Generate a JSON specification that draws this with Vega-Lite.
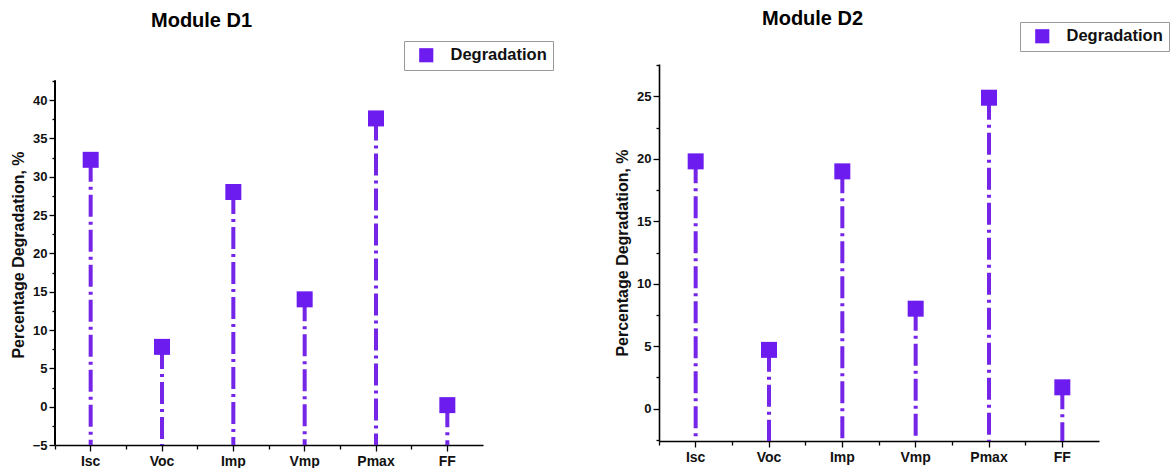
{
  "$schema": "https://vega.github.io/schema/vega-lite/v6.json",
  "padding": {"left": 10, "top": 9, "right": 2, "bottom": 0},
  "spacing": 60,
  "resolve": {"scale": {"color": "independent"}, "legend": {"color": "independent"}},
  "config": {
    "font": "Liberation Sans",
    "view": {"stroke": null},
    "axis": {
      "domainColor": "#000", "domainWidth": 1.6, "tickColor": "#000", "tickWidth": 1.3,
      "labelFont": "Liberation Sans", "labelFontWeight": "bold", "labelColor": "#111",
      "titleFont": "Liberation Sans", "titleFontWeight": "bold", "titleColor": "#111", "grid": false
    },
    "legend": {
      "labelFont": "Liberation Sans", "labelFontWeight": "bold", "labelFontSize": 16.5, "labelColor": "#111",
      "strokeColor": "#999", "padding": 6, "symbolSize": 200, "symbolOffset": 8, "labelOffset": 16, "symbolStrokeWidth": 0
    },
    "title": {"font": "Liberation Sans", "fontWeight": "bold", "fontSize": 20, "color": "#000", "anchor": "start", "frame": "group"}
  },
  "hconcat": [
    {
      "vconcat": [
        {
          "title": {"text": "Module D1", "dx": 96, "offset": 33},
          "width": 428, "height": 381,
          "data": {"values": [
            {"param": "Isc", "value": 32.2, "series": "Degradation"},
            {"param": "Voc", "value": 7.8, "series": "Degradation"},
            {"param": "Imp", "value": 28.0, "series": "Degradation"},
            {"param": "Vmp", "value": 14.0, "series": "Degradation"},
            {"param": "Pmax", "value": 37.6, "series": "Degradation"},
            {"param": "FF", "value": 0.2, "series": "Degradation"}
          ]},
          "resolve": {"axis": {"x": "independent", "y": "independent"}},
          "layer": [
            {
              "mark": {"type": "rule", "strokeDash": [22, 5, 3, 5], "strokeWidth": 4, "color": "#7425e8"},
              "encoding": {
                "x": {"field": "param", "type": "nominal", "sort": null,
                      "scale": {"type": "band", "paddingInner": 0, "paddingOuter": 0},
                      "axis": {"title": null, "labelAngle": 0, "labelFontSize": 14, "tickSize": 6, "labelPadding": 3, "orient": "bottom"}},
                "y": {"field": "value", "type": "quantitative",
                      "scale": {"domain": [-5, 44.7], "nice": false, "zero": false},
                      "axis": {"title": "Percentage Degradation, %", "titleFontSize": 16, "titlePadding": 6, "labelFontSize": 13, "domain": false,
                               "values": [-5, 0, 5, 10, 15, 20, 25, 30, 35, 40], "tickSize": 6, "orient": "left"}},
                "y2": {"datum": -5}
              }
            },
            {
              "mark": {"type": "rule", "color": "#000", "strokeWidth": 1.6},
              "encoding": {
                "x": {"datum": "Isc", "type": "nominal", "bandPosition": 0, "axis": null},
                "y": {"datum": -5, "type": "quantitative", "axis": null},
                "y2": {"datum": 42.5}
              }
            },
            {
              "mark": {"type": "square", "size": 256, "opacity": 1},
              "encoding": {
                "x": {"field": "param", "type": "nominal", "sort": null,
                      "axis": {"title": null, "labels": false, "domain": false, "tickSize": 4, "bandPosition": 0, "orient": "bottom"}},
                "y": {"field": "value", "type": "quantitative",
                      "axis": {"title": null, "labels": false, "domain": false, "tickSize": 3, "orient": "left",
                               "values": [-2.5, 2.5, 7.5, 12.5, 17.5, 22.5, 27.5, 32.5, 37.5, 42.5]}},
                "color": {"field": "series", "type": "nominal", "scale": {"range": ["#6d1cf0"]},
                          "legend": {"title": null, "orient": "none", "legendX": 349, "legendY": -23}}
              }
            }
          ]
        }
      ]
    },
    {
      "vconcat": [
        {
          "title": {"text": "Module D2", "dx": 103, "offset": 35},
          "width": 440, "height": 377,
          "data": {"values": [
            {"param": "Isc", "value": 19.8, "series": "Degradation"},
            {"param": "Voc", "value": 4.7, "series": "Degradation"},
            {"param": "Imp", "value": 19.0, "series": "Degradation"},
            {"param": "Vmp", "value": 8.0, "series": "Degradation"},
            {"param": "Pmax", "value": 24.9, "series": "Degradation"},
            {"param": "FF", "value": 1.7, "series": "Degradation"}
          ]},
          "resolve": {"axis": {"x": "independent", "y": "independent"}},
          "layer": [
            {
              "mark": {"type": "rule", "strokeDash": [22, 5, 3, 5], "strokeWidth": 4, "color": "#7425e8"},
              "encoding": {
                "x": {"field": "param", "type": "nominal", "sort": null,
                      "scale": {"type": "band", "paddingInner": 0, "paddingOuter": 0},
                      "axis": {"title": null, "labelAngle": 0, "labelFontSize": 14, "tickSize": 6, "labelPadding": 3, "orient": "bottom"}},
                "y": {"field": "value", "type": "quantitative",
                      "scale": {"domain": [-2.6, 27.6], "nice": false, "zero": false},
                      "axis": {"title": "Percentage Degradation, %", "titleFontSize": 16, "titlePadding": 6, "labelFontSize": 13,
                               "values": [0, 5, 10, 15, 20, 25], "tickSize": 6, "orient": "left"}},
                "y2": {"datum": -2.6}
              }
            },
            {
              "mark": {"type": "square", "size": 256, "opacity": 1},
              "encoding": {
                "x": {"field": "param", "type": "nominal", "sort": null,
                      "axis": {"title": null, "labels": false, "domain": false, "tickSize": 4, "bandPosition": 0, "orient": "bottom"}},
                "y": {"field": "value", "type": "quantitative",
                      "axis": {"title": null, "labels": false, "domain": false, "tickSize": 3, "orient": "left",
                               "values": [-2.5, 2.5, 7.5, 12.5, 17.5, 22.5, 27.5]}},
                "color": {"field": "series", "type": "nominal", "scale": {"range": ["#6d1cf0"]},
                          "legend": {"title": null, "orient": "none", "legendX": 361, "legendY": -42}}
              }
            }
          ]
        }
      ]
    }
  ]
}
